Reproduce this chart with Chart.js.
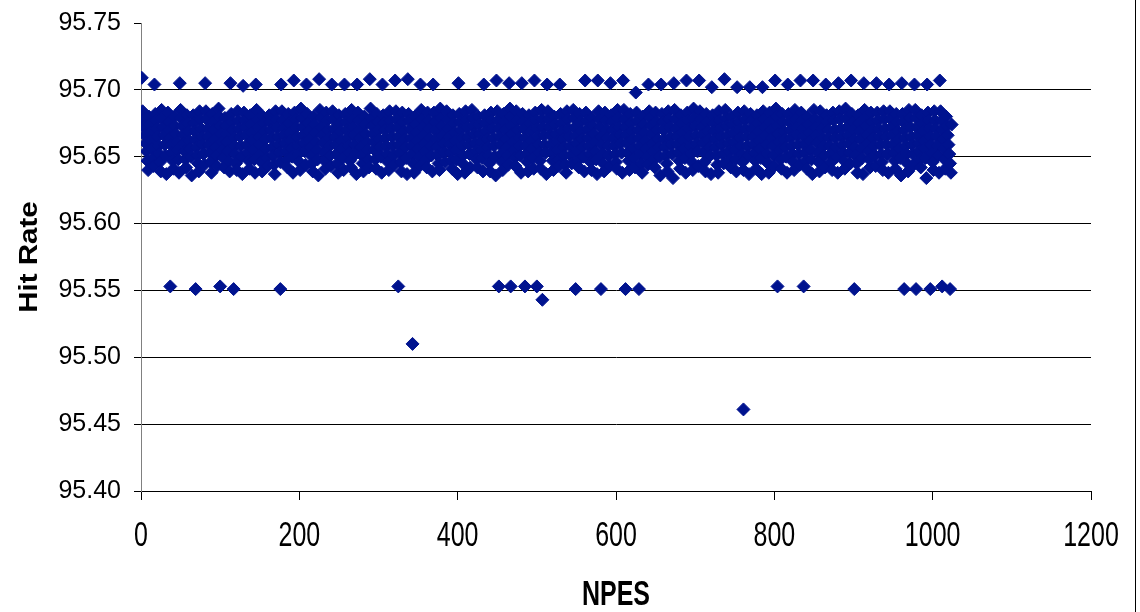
<!DOCTYPE html>
<html>
<head>
<meta charset="utf-8">
<script src="https://cdn.jsdelivr.net/npm/chart.js@4.4.1/dist/chart.umd.min.js"></script>
<style>
  html, body { margin: 0; padding: 0; background: #fff; }
  #wrap { width: 1140px; height: 612px; position: relative; }
</style>
</head>
<body>
<div id="wrap"><canvas id="hitChart" width="1140" height="612"></canvas></div>
<script>
// axis ticks
const xTicks = [0, 200, 400, 600, 800, 1000, 1200];
const yTicks = [95.40, 95.45, 95.50, 95.55, 95.60, 95.65, 95.70, 95.75];

// high runs, one per block of 16 NPES
const upperNpes = [1, 17, 49, 81, 113, 129, 145, 177, 193, 209, 225, 241, 257, 273, 289, 305, 321, 337, 353, 369,
    401, 433, 449, 465, 481, 497, 513, 529, 561, 577, 593, 609, 625, 641, 657, 673, 689, 705, 721, 737,
    753, 769, 785, 801, 817, 833, 849, 865, 881, 897, 913, 929, 945, 961, 977, 993, 1009];
const upperRate = [95.709, 95.704, 95.705, 95.705, 95.705, 95.703, 95.704, 95.704, 95.707, 95.704, 95.708, 95.704, 95.704, 95.704, 95.708, 95.704, 95.707, 95.708, 95.704, 95.704,
    95.705, 95.704, 95.707, 95.705, 95.705, 95.707, 95.704, 95.704, 95.707, 95.707, 95.705, 95.707, 95.698, 95.704, 95.704, 95.705, 95.707, 95.707, 95.702, 95.708,
    95.702, 95.702, 95.702, 95.707, 95.704, 95.707, 95.707, 95.704, 95.705, 95.707, 95.705, 95.705, 95.704, 95.705, 95.704, 95.704, 95.707];

// low runs
const lowerNpes = [37, 69, 100, 117, 176, 325, 343, 452, 467, 485, 500, 507, 549, 581, 612, 629, 761, 804, 837, 901, 964, 979, 997, 1012, 1022];
const lowerRate = [95.553, 95.551, 95.553, 95.551, 95.551, 95.553, 95.510, 95.553, 95.553, 95.553, 95.553, 95.543, 95.551, 95.551, 95.551, 95.551, 95.461, 95.553, 95.553, 95.551, 95.551, 95.551, 95.551, 95.553, 95.551];

// main band: block k holds NPES 16k+2 .. 16k+16, rate above 95.600 in thousandths
const bandBase = 95.6;
const bandThousandths = [
    [84,78,72,66,60,54,47,40, 80,74,68,62,56,49,43],
    [82,77,71,65,58,52,46,39, 85,79,72,66,59,51,37],
    [83,76,70,64,59,53,47,41, 80,73,67,61,55,48,38],
    [85,79,73,66,60,54,48,42, 81,75,69,62,56,50,36],
    [81,75,69,63,57,51,45,39, 84,78,71,65,59,52,44],
    [84,78,71,65,59,53,46,38, 82,76,70,63,57,51,43],
    [86,80,73,67,61,55,49,42, 79,73,67,61,54,47,39],
    [82,76,70,64,58,52,45,40, 84,77,71,65,58,50,37],
    [83,77,72,66,59,53,47,41, 81,74,68,62,55,48,38],
    [85,78,72,65,59,52,46,39, 80,75,69,63,56,49,43],
    [81,76,70,64,57,51,44,37, 84,78,72,65,59,53,46],
    [84,77,71,66,60,54,48,42, 82,75,68,62,56,50,38],
    [83,78,72,65,58,52,46,40, 86,79,72,66,60,54,44],
    [82,75,69,63,57,51,45,39, 80,74,68,61,55,48,36],
    [85,79,72,66,60,53,47,41, 83,77,70,64,58,51,43],
    [84,78,71,65,59,52,45,38, 81,75,69,62,56,49,40],
    [82,76,70,64,58,53,47,42, 85,78,72,66,59,52,37],
    [83,77,70,64,57,51,45,39, 80,74,67,61,55,48,42],
    [86,79,73,67,61,55,48,41, 82,76,70,63,57,50,38],
    [81,75,70,64,58,52,46,40, 84,77,71,65,58,51,44],
    [84,78,72,65,59,53,46,39, 83,76,69,63,57,49,37],
    [82,77,71,64,58,52,45,38, 80,74,68,62,56,50,43],
    [85,78,72,66,60,54,48,42, 83,77,71,64,58,51,39],
    [83,76,70,63,57,51,45,40, 86,79,73,66,60,53,46],
    [84,78,71,65,59,53,47,41, 81,75,68,62,55,48,37],
    [82,76,70,64,58,51,44,38, 84,78,72,65,59,52,42],
    [85,79,73,67,60,54,48,42, 80,74,67,61,55,49,39],
    [81,75,69,63,57,51,45,39, 83,77,71,64,58,50,36],
    [84,77,71,65,59,52,46,40, 82,76,70,63,57,51,44],
    [86,80,73,67,61,55,49,43, 84,77,70,64,58,51,38],
    [82,76,71,64,58,52,46,39, 81,75,69,62,56,49,41],
    [83,77,71,65,59,53,47,41, 85,78,72,66,59,53,37],
    [84,78,72,66,59,53,47,40, 80,74,67,61,55,48,43],
    [82,75,69,63,57,51,44,38, 84,78,71,65,58,51,45],
    [85,79,72,66,60,54,47,42, 82,76,69,63,57,50,39],
    [83,77,71,64,58,52,46,40, 79,73,67,61,54,48,37],
    [84,78,72,65,59,52,45,39, 83,77,70,64,58,51,43],
    [81,76,70,64,58,52,46,41, 85,79,72,66,60,53,38],
    [85,78,72,66,60,53,47,40, 82,75,69,63,56,49,42],
    [83,77,70,64,58,52,45,38, 80,74,68,62,56,50,44],
    [84,79,73,67,60,54,48,42, 83,76,70,63,57,50,36],
    [82,76,70,63,57,51,45,39, 84,78,72,65,59,52,34],
    [85,78,71,65,59,53,47,41, 81,75,68,62,56,49,38],
    [83,77,71,65,58,52,46,40, 86,79,73,66,60,54,43],
    [84,78,72,66,60,53,46,39, 82,76,69,63,57,51,37],
    [81,75,69,63,57,51,44,38, 84,77,71,65,59,52,45],
    [85,79,73,66,60,54,48,42, 80,74,68,61,55,48,39],
    [83,76,70,64,58,52,46,40, 84,78,71,65,58,51,37],
    [82,77,71,65,59,53,47,41, 81,75,69,62,56,49,37],
    [84,78,72,66,59,52,45,38, 83,76,70,64,58,51,43],
    [86,80,73,67,61,55,48,41, 82,76,69,63,57,50,38],
    [82,76,70,64,58,52,46,40, 85,78,72,66,59,52,44],
    [83,77,71,65,59,53,47,41, 80,74,68,62,55,48,37],
    [85,78,72,66,60,53,46,39, 84,77,71,64,58,51,42],
    [81,76,70,64,58,52,46,40, 83,77,70,64,57,50,38],
    [84,78,71,65,59,53,47,41, 86,79,72,66,60,53,45],
    [82,76,70,63,57,51,45,38, 81,75,69,63,56,49,37],
    [85,79,73,66,60,54,48,42, 83,76,70,64,58,51,43],
    [83,77,71,65,59,52,46,40, 84,78,71,65,59,52,38],
    [84,78,72,66,59,53,47,41, 82,76,69,63,56,49,36],
    [82,76,70,64,58,52,45,39, 85,79,72,65,59,52,44],
    [85,79,72,66,60,54,48,42, 81,75,69,62,56,49,34],
    [83,77,71,65,59,53,46,40, 84,77,71,65,58,51,38],
    [84,77,70,63,56,48,41, 80,73,66,59,52,45,38,74]
];

const pointColor = '#00138f';
const fontFamily = "'Liberation Sans', Arial, sans-serif";

// flatten everything into one scatter series
const points = [];
upperNpes.forEach((n, i) => points.push({ x: n, y: upperRate[i] }));
lowerNpes.forEach((n, i) => points.push({ x: n, y: lowerRate[i] }));
bandThousandths.forEach((block, k) => {
    block.forEach((t, j) => {
        points.push({ x: 16 * k + 2 + j, y: +(bandBase + t / 1000).toFixed(3) });
    });
});

// x tick labels, axis titles and the outer frame line are drawn here
const textPlugin = {
    id: 'hitText',
    afterDraw(chart) {
        const ctx = chart.ctx;
        const xs = chart.scales.x;
        ctx.save();
        ctx.fillStyle = '#000';
        ctx.textAlign = 'center';
        ctx.textBaseline = 'middle';

        ctx.font = '25px ' + fontFamily;
        xTicks.forEach(v => {
            ctx.save();
            ctx.translate(xs.getPixelForValue(v), 536);
            ctx.scale(1, 1.42);
            ctx.fillText(String(v), 0, 0);
            ctx.restore();
        });

        ctx.font = 'bold 25px ' + fontFamily;
        ctx.save();
        ctx.translate((chart.chartArea.left + chart.chartArea.right) / 2, 595);
        ctx.scale(1, 1.42);
        ctx.fillText('NPES', 0, 0);
        ctx.restore();

        ctx.save();
        ctx.translate(30, (chart.chartArea.top + chart.chartArea.bottom) / 2);
        ctx.rotate(-Math.PI / 2);
        ctx.scale(1.18, 1);
        ctx.font = 'bold 25px ' + fontFamily;
        ctx.fillText('Hit Rate', 0, 0);
        ctx.restore();

        ctx.strokeStyle = '#000';
        ctx.lineWidth = 1;
        ctx.beginPath();
        ctx.moveTo(1135.5, 0);
        ctx.lineTo(1135.5, 612);
        ctx.stroke();
        ctx.restore();
    }
};

new Chart(document.getElementById('hitChart').getContext('2d'), {
    type: 'scatter',
    data: {
        datasets: [{
            label: 'Hit Rate',
            data: points,
            pointStyle: 'rectRot',
            pointRadius: 6.5,
            borderWidth: 1,
            backgroundColor: pointColor,
            borderColor: pointColor
        }]
    },
    options: {
        responsive: false,
        animation: false,
        events: [],
        layout: { padding: { left: 0, right: 49, top: 23, bottom: 0 } },
        plugins: {
            legend: { display: false },
            tooltip: { enabled: false }
        },
        scales: {
            x: {
                type: 'linear',
                min: xTicks[0],
                max: xTicks[xTicks.length - 1],
                ticks: { stepSize: 200, display: false },
                grid: { drawOnChartArea: false, drawTicks: true, tickLength: 9, tickColor: '#000' },
                border: { color: '#000', width: 1 },
                afterFit: s => { s.height = 121; s.paddingLeft = 0; s.paddingRight = 0; }
            },
            y: {
                type: 'linear',
                min: yTicks[0],
                max: yTicks[yTicks.length - 1],
                afterBuildTicks: s => { s.ticks = yTicks.map(v => ({ value: v })); },
                ticks: {
                    color: '#000',
                    padding: 13,
                    font: { family: fontFamily, size: 25 },
                    callback: v => Number(v).toFixed(2)
                },
                grid: {
                    color: c => (c.tick && c.tick.value > 95.74) ? 'rgba(0,0,0,0)' : '#000',
                    tickColor: '#000',
                    tickLength: 7,
                    lineWidth: 1
                },
                border: { color: '#808080', width: 1 },
                afterFit: s => { s.width = 141; s.paddingTop = 0; s.paddingBottom = 0; }
            }
        }
    },
    plugins: [textPlugin]
});
</script>
</body>
</html>
